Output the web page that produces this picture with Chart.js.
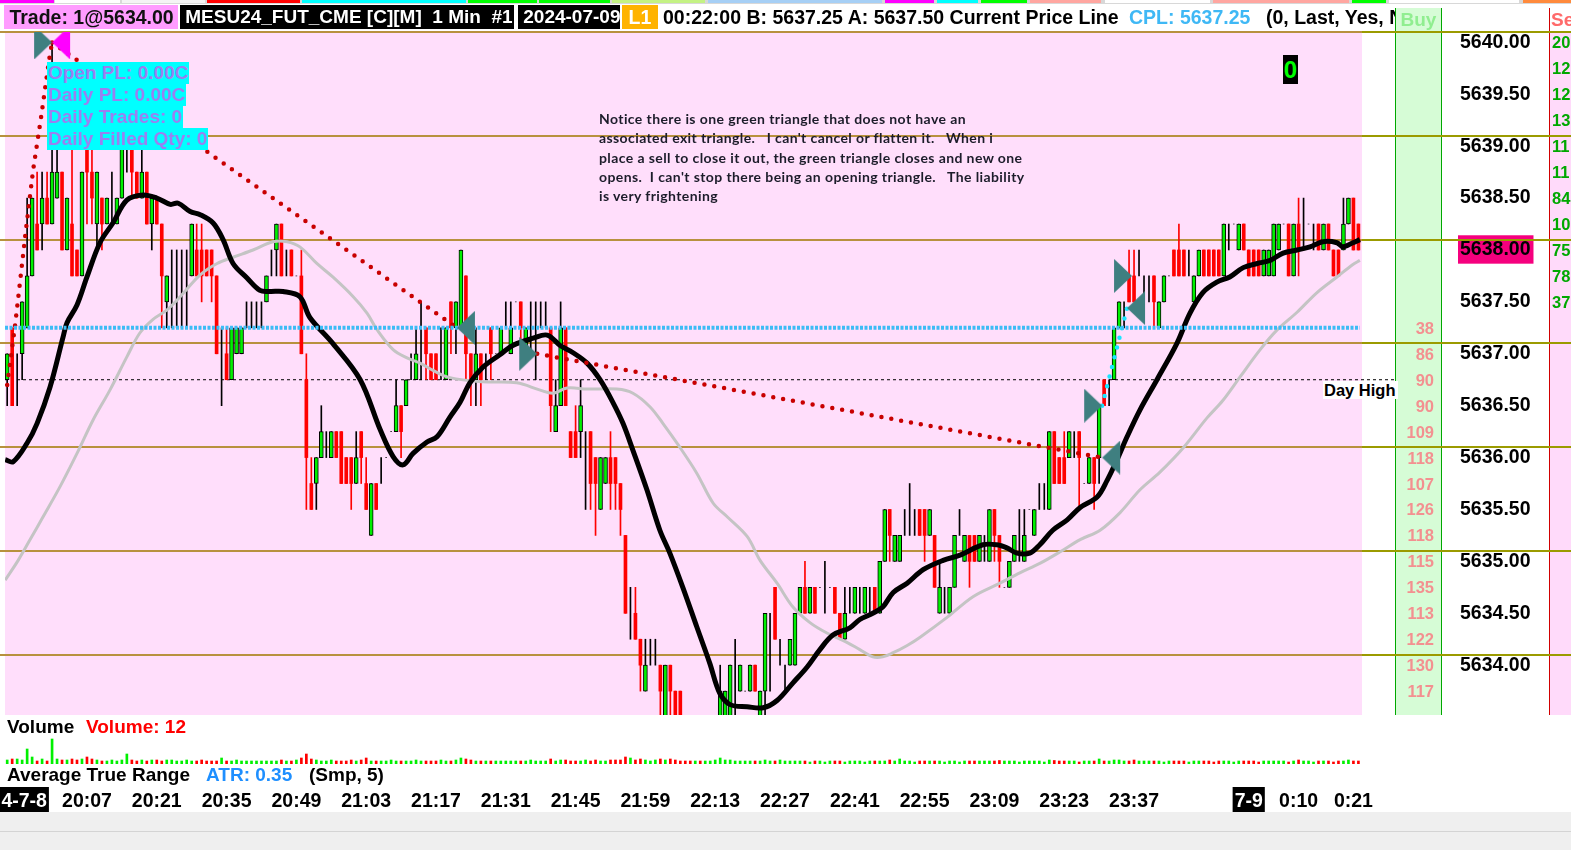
<!DOCTYPE html>
<html>
<head>
<meta charset="utf-8">
<title>MESU24_FUT_CME 1 Min</title>
<script src="https://cdn.jsdelivr.net/npm/chart.js@4.4.1/dist/chart.umd.min.js"></script>
<style>
  html, body { margin: 0; padding: 0; background: #fff; }
  #page { position: relative; width: 1571px; height: 850px; overflow: hidden;
          font-family: "Liberation Sans", Arial, sans-serif; font-weight: bold; }
  .abs { position: absolute; white-space: pre; }
  canvas { position: absolute; left: 0; z-index: 2; }
  #priceCanvas { top: 0; }
  #volCanvas { top: 715px; }
  .bg { z-index: 1; }
  .txt { z-index: 3; }
  .hdr { top: 5px; height: 24px; line-height: 24px; font-size: 19.5px; overflow: hidden; }
  .info { left: 47px; height: 22px; line-height: 22px; font-size: 19px; color: #9a80f0; background: #00ffff; padding: 0 1px; }
  .colnum { width: 38px; text-align: right; left: 1396px; font-size: 16.5px; color: #f39090; line-height: 20px; }
  .rnum { left: 1552px; font-size: 16.5px; color: #00a800; line-height: 20px; }
  #note { left: 599px; top: 109px; font-family: Lato, "Open Sans", sans-serif; font-weight: 700; font-size: 14px;
          letter-spacing: 0.4px; line-height: 19.3px; color: #1c1c2a; }
</style>
</head>
<body>
<div id="page">
  <canvas id="priceCanvas" width="1571" height="715"></canvas>
  <canvas id="volCanvas" width="1571" height="97"></canvas>
</div>
<script>
// ---- price data, in ticks above BASE (1 tick = 0.25) ----
const BASE = 5633, TICK = 0.25;
const toPrice = t => BASE + t * TICK;

const opensT = [
15,17,15,16,17,19,21,21,22,21, 22,23,20,21,20,19,24,23,21,22,
21,22,21,22,24,24,23,22,23,21, 22,21,18,19,19,19,19,19,20,20,
20,20,19,16,16,15,16,16,17,17, 17,17,18,19,20,21,19,20,19,19,
15,11,11,12,13,12,13,13,12,12, 11,13,11,9,11,11,12,13,13,14,
14,15,15,16,17,16,16,16,15,18, 17,17,19,16,15,16,16,17,16,16,
17,16,18,18,16,17,17,18,18,17, 13,14,17,13,13,13,12,13,12,10,
11,12,12,11,9,7,6,5,3,4, 4,4,2,4,3,3,2,1,0,1,
0,1,1,2,2,2,4,3,3,3, 4,2,3,6,7,5,4,4,4,6,
7,6,7,7,7,7,7,6,5,7, 6,7,6,7,7,6,8,10,8,8,
9,10,10,10,10,9,9,6,7,6, 7,9,8,9,9,8,9,8,10,9,
7,7,8,9,8,10,9,10,10,10, 13,12,12,12,13,13,11,11,12,12,
15,15,15,17,18,19,19,19,19,19, 19,17,18,19,20,20,20,20,18,19,
20,20,20,20,19,21,21,20,21,20, 20,20,19,19,19,20,21,21,19,21,
21,21,21,21,20,21,20,20,20,21, 22,21];
const highsT = [
16,17,16,18,22,22,23,23,23,28, 24,23,22,24,20,23,25,24,23,22,
22,23,22,25,25,24,23,24,23,22, 22,21,19,20,20,20,20,21,21,21,
20,20,19,17,17,17,17,17,18,18, 18,18,19,20,21,21,20,20,19,20,
16,12,12,14,13,13,13,13,12,12, 13,13,12,11,11,12,12,13,15,14,
15,16,17,18,17,16,16,17,17,18, 18,20,19,16,17,16,16,17,16,17,
18,18,18,18,17,18,18,18,18,17, 15,18,17,13,14,15,13,13,12,12,
12,13,12,11,9,7,7,5,5,5, 5,4,4,4,3,3,2,2,1,2,
1,2,2,4,3,4,5,4,3,4, 4,3,6,6,7,5,4,5,6,7,
8,7,7,7,8,7,7,6,7,7, 7,7,7,7,7,8,10,10,9,9,
10,11,10,10,10,10,9,8,7,7, 9,10,9,9,9,9,9,10,10,9,
7,8,9,10,10,10,10,11,11,13, 13,12,13,13,13,13,11,12,12,14,
15,15,17,18,18,20,20,20,19,19, 19,18,19,19,20,21,20,20,19,20,
20,20,20,20,21,21,21,21,21,20, 20,20,20,20,21,21,21,21,21,22,
22,21,21,21,21,21,20,20,22,22, 22,21];
const lowsT = [
14,14,14,15,17,19,20,20,21,21, 22,20,20,19,19,19,21,21,20,20,
21,21,21,22,23,22,22,22,21,20, 21,17,17,17,17,17,17,19,19,18,
19,18,16,14,15,15,16,16,17,17, 17,17,18,19,19,19,19,19,19,16,
10,10,10,12,12,12,12,11,11,10, 11,11,10,9,10,11,12,13,13,12,
14,15,15,15,15,15,15,15,15,16, 16,17,15,14,14,14,15,15,16,16,
17,16,18,16,16,16,15,17,17,13, 13,14,14,12,12,12,10,10,9,10,
11,10,10,9,6,5,5,3,3,4, 4,2,2,2,2,1,0,0,-1,0,
-1,0,0,1,1,2,2,3,3,3, 3,1,2,3,5,4,3,4,4,6,
6,6,6,7,6,7,6,5,5,6, 6,6,6,6,6,6,8,8,8,8,
9,9,9,9,8,9,7,6,6,6, 7,9,8,7,8,8,8,8,8,7,
7,7,8,8,8,10,9,10,10,10, 11,11,11,12,12,10,11,11,10,11,
14,14,15,17,17,18,18,19,18,18, 17,17,18,19,19,19,19,19,18,19,
19,19,19,19,19,20,21,20,20,19, 19,19,19,19,19,20,21,19,19,19,
20,21,20,20,20,20,19,19,20,21, 20,20];
const closesT = [
16,14,15,18,19,22,20,22,21,23, 23,20,22,19,19,23,23,22,23,21,
22,22,22,24,24,23,22,23,21,22, 21,19,19,19,19,19,19,21,19,19,
19,19,16,16,15,17,17,17,17,17, 17,17,19,19,21,19,19,19,19,16,
12,10,12,13,13,13,12,11,11,11, 12,12,10,11,10,11,12,13,14,13,
15,15,16,16,16,15,15,16,17,17, 18,20,16,15,16,15,16,16,16,17,
17,17,18,17,17,17,17,18,18,14, 14,17,14,12,12,14,12,11,11,12,
12,11,11,10,6,7,5,4,4,4, 4,3,4,3,2,2,1,0,1,0,
1,1,2,3,3,4,4,4,3,4, 3,3,6,6,5,5,4,5,6,7,
6,7,6,7,7,7,6,5,6,7, 7,7,7,7,6,8,10,9,9,9,
9,10,10,9,9,10,7,7,7,7, 9,9,9,8,8,9,9,10,9,8,
7,8,9,9,9,10,10,10,10,13, 11,11,11,13,13,12,11,12,11,14,
14,15,17,18,18,18,18,19,19,19, 18,18,19,19,19,19,19,20,19,20,
19,19,19,19,21,21,21,21,20,19, 19,19,20,20,21,21,21,19,21,20,
21,21,21,20,21,20,19,19,21,22, 20,20];
const volumes = [
16,20,20,16,60,28,12,20,12,100, 20,16,16,20,16,20,28,20,16,12,
12,16,12,16,40,16,12,16,12,16, 16,12,16,16,12,12,16,12,12,16,
12,12,12,24,12,12,16,12,12,12, 12,12,12,12,12,16,12,12,16,24,
40,20,16,12,12,16,12,12,12,16, 12,16,24,12,12,12,12,16,12,12,
12,12,16,12,12,12,12,16,12,12, 16,24,20,16,12,12,12,12,12,12,
12,12,12,12,12,16,12,12,12,20, 12,16,16,12,12,12,16,12,16,12,
12,16,16,16,28,24,16,20,16,12, 16,20,16,20,16,12,12,12,12,12,
12,12,16,24,16,16,12,12,12,12, 12,12,16,12,12,16,12,12,12,12,
12,8,12,12,8,12,12,12,8,12, 12,12,8,12,12,12,12,16,12,20,
12,12,8,12,12,12,12,12,8,12, 12,8,12,12,12,12,12,12,12,14,
12,12,12,8,12,12,12,12,8,16, 14,12,12,12,12,8,12,12,12,20,
12,12,16,16,12,12,16,12,12,12, 12,12,8,12,12,12,12,8,12,12,
12,12,8,12,12,12,8,12,12,12, 12,8,12,12,12,12,12,8,12,16,
12,12,8,12,12,12,8,12,12,16, 12,12];

// moving averages (bar index, price)
const fastMaBars = [-0.4,1.2,4,6,8.6,11.2,12,14,16,18.6,21.2,24,27.2,30,32.7,34.3,36.7,38.7,41.3,43.3,45.3,48.1,50.7,52.7,55.3,58.7,60.7,65.3,70.8,74.8,77.4,79.4,81.4,84.2,86.2,88.8,90.8,92.8,95.4,98.8,101.4,105.5,108.3,110.9,113.5,116.3,118.9,121.5,123.5,125.5,128.3,130.9,132.9,135.5,138.3,140.9,142.9,145,148.4,151.6,154.4,157.6,160.4,163,165.6,169,171,173.6,175.6,177.7,180.5,183.7,187.7,191.1,195.7,198.5,200.5,202.5,205.1,207.1,209.7,212.6,215.2,218.6,220.6,222.6,224.6,227.2,230.6,234.6,237.2,239.8,242.6,245.2,247.9,250.7,253.3,255.9,258.7,261.3,263.9,266.7,267.9,269.9,271.3];
const fastMaVals = [5635.98,5635.96,5636.14,5636.33,5636.68,5637.16,5637.30,5637.47,5637.74,5638.07,5638.26,5638.48,5638.53,5638.50,5638.44,5638.45,5638.37,5638.34,5638.26,5638.10,5637.87,5637.73,5637.61,5637.60,5637.60,5637.55,5637.35,5637.10,5636.75,5636.27,5636.01,5635.93,5636.04,5636.15,5636.20,5636.39,5636.53,5636.72,5636.87,5636.99,5637.08,5637.15,5637.18,5637.08,5637.01,5636.91,5636.75,5636.53,5636.33,5636.07,5635.69,5635.30,5635.08,5634.75,5634.37,5634.02,5633.73,5633.62,5633.60,5633.59,5633.66,5633.83,5633.98,5634.15,5634.29,5634.36,5634.44,5634.50,5634.56,5634.70,5634.79,5634.92,5635.01,5635.06,5635.16,5635.16,5635.13,5635.08,5635.08,5635.16,5635.30,5635.40,5635.52,5635.62,5635.78,5635.98,5636.20,5636.46,5636.75,5637.10,5637.39,5637.59,5637.69,5637.74,5637.83,5637.87,5637.90,5637.97,5638.00,5638.03,5638.08,5638.07,5638.03,5638.07,5638.10];
const slowMaBars = [-0.4,2.2,4.6,7.2,10.6,14,17.2,20.6,24,26.6,29.2,32,34.7,38.7,42.1,45.3,49.3,53.3,56.1,58.7,62.1,65.3,69.4,72.2,74.2,77.4,80.2,82.8,85.4,88.8,95.4,102.2,106.9,109.5,112.3,116.3,122.3,125.5,128.9,131.5,134.9,138.3,141.6,144.4,148.4,151,154.4,157.6,161,164.4,168.4,171,173.6,175.6,177.7,180.5,183.1,188.5,193.7,199.1,203.1,207.1,211.1,215.2,219.2,223.2,227.2,231.2,235.8,240.6,243.8,247.3,251.3,254.7,258.7,262.7,266.7,269.9,271.3];
const slowMaVals = [5634.82,5635.01,5635.21,5635.43,5635.72,5636.04,5636.36,5636.65,5636.97,5637.20,5637.33,5637.42,5637.55,5637.76,5637.87,5637.93,5638.00,5638.08,5638.08,5638.03,5637.87,5637.74,5637.55,5637.39,5637.23,5637.04,5636.96,5636.91,5636.84,5636.77,5636.73,5636.72,5636.65,5636.62,5636.67,5636.66,5636.66,5636.62,5636.49,5636.33,5636.10,5635.85,5635.56,5635.43,5635.24,5635.01,5634.79,5634.56,5634.41,5634.31,5634.22,5634.15,5634.08,5634.08,5634.12,5634.19,5634.27,5634.46,5634.66,5634.79,5634.89,5634.98,5635.09,5635.21,5635.30,5635.47,5635.69,5635.86,5636.09,5636.38,5636.55,5636.78,5637.04,5637.23,5637.40,5637.59,5637.74,5637.86,5637.90];

// trade markers and trade lines
const entryBars = [9.0, 106.3, 219.6, 225.6];
const entryPrices = [5640.00, 5637.00, 5636.50, 5637.75];
const exitBars = [90.2, 219.6, 224.6];
const exitPrices = [5637.25, 5636.00, 5637.44];
const openExitBars = [9.0];
const openExitPrices = [5640.00];
const tradeABars = [0, 1.6, 3.6, 5.2, 6.8, 8.4, 9.0];
const tradeAPrices = [5636.70, 5637.28, 5638.13, 5638.77, 5639.28, 5639.83, 5640.00];
const tradeBBars = [9.0, 90.2];
const tradeBPrices = [5640.00, 5637.25];
const tradeCBars = [106.3, 219.6];
const tradeCPrices = [5637.00, 5636.00];
const winBars = [219.6, 224.6];
const winPrices = [5636.50, 5637.44];

const cplPrice = 5637.25;
const dayHighPrice = 5636.75;
const gridLevels = [5634.1, 5635.1, 5636.1, 5637.1, 5638.1, 5639.1, 5640.1];
const priceLabels = [5634, 5634.5, 5635, 5635.5, 5636, 5636.5, 5637, 5637.5, 5638, 5638.5, 5639, 5639.5, 5640];
const lastPriceLabel = 5638;

const timeLabels = ['4-7-8','20:07','20:21','20:35','20:49','21:03','21:17','21:31','21:45','21:59','22:13','22:27','22:41','22:55','23:09','23:23','23:37','7-9','0:10','0:21'];
const timeTickBars = [3.4,16,30,44,58,72,86,100,114,128,142,156,170,184,198,212,226,249,259,270];
const dateLabelIdx = [0, 17];

const buyColTicks = [17,16,15,14,13,12,11,10,9,8,7,6,5,4,3];
const buyColVals = [38,86,90,90,109,118,107,126,118,115,135,113,122,130,117];
const sellColTicks = [28,27,26,25,24,23,22,21,20,19,18];
const sellColVals = [20,12,12,13,11,11,84,10,75,78,37];

// ---- layout constants ----
const XMIN = -0.44, XMAX = 271.72;
const RIGHT_W = 209;
const PINK = '#ffdefb';
const UP = '#00f000', DOWN = '#ff0000';

const bars = opensT.map((_, i) => i);
const isUp = i => closesT[i] > opensT[i];
const isDown = i => closesT[i] < opensT[i];

const wickData = bars.map(i => ({ x: i, y: [toPrice(lowsT[i]), toPrice(highsT[i])] }));
const upBodies = bars.filter(isUp).map(i => ({ x: i, y: [toPrice(opensT[i]), toPrice(closesT[i])] }));
const downBodies = bars.filter(isDown).map(i => ({ x: i, y: [toPrice(closesT[i]), toPrice(opensT[i])] }));
const pairs = (xs, ys) => xs.map((x, k) => ({ x: x, y: ys[k] }));

// scale paddings would otherwise push the plot area inward
const noPad = s => { s.paddingLeft = 0; s.paddingRight = 0; s.paddingTop = 0; s.paddingBottom = 0; };

function triImage(color, right) {
  const c = document.createElement('canvas');
  c.width = 40; c.height = 34;
  const g = c.getContext('2d');
  g.fillStyle = color;
  g.beginPath();
  if (right) { g.moveTo(2, 0); g.lineTo(20, 17); g.lineTo(2, 34); }
  else { g.moveTo(38, 0); g.lineTo(20, 17); g.lineTo(38, 34); }
  g.closePath(); g.fill();
  return c;
}
const TEAL = '#3f7f80';

const paneBg = {
  id: 'paneBg',
  beforeDraw(chart) {
    const a = chart.chartArea, ctx = chart.ctx;
    ctx.save();
    ctx.fillStyle = PINK;
    ctx.fillRect(a.left, a.top, a.right - a.left, a.bottom - a.top);
    ctx.restore();
  }
};
const levelLines = {
  id: 'levelLines',
  beforeDatasetsDraw(chart) {
    const a = chart.chartArea, ctx = chart.ctx, y = chart.scales.y;
    ctx.save();
    ctx.lineWidth = 2;
    gridLevels.forEach(v => {
      const py = Math.round(y.getPixelForValue(v));
      ctx.strokeStyle = '#b8913e';
      ctx.beginPath(); ctx.moveTo(0, py); ctx.lineTo(a.right, py); ctx.stroke();
      ctx.strokeStyle = '#9b9b00';
      ctx.beginPath(); ctx.moveTo(a.right, py); ctx.lineTo(chart.width, py); ctx.stroke();
    });
    ctx.restore();
  }
};

const dotted = (color) => ({
  type: 'line', borderColor: color, borderWidth: 4.5, borderDash: [0, 10],
  borderCapStyle: 'round', pointRadius: 0, tension: 0, fill: false
});

const priceChart = new Chart(document.getElementById('priceCanvas'), {
  type: 'bar',
  data: {
    datasets: [
      Object.assign(dotted('#c80000'), { data: pairs(tradeABars, tradeAPrices), order: 2 }),
      Object.assign(dotted('#c80000'), { data: pairs(tradeBBars, tradeBPrices), order: 2 }),
      Object.assign(dotted('#c80000'), { data: pairs(tradeCBars, tradeCPrices), order: 2 }),
      Object.assign(dotted('#19e6ff'), { data: pairs(winBars, winPrices), order: 2 }),
      { type: 'line', data: [{ x: XMIN, y: cplPrice }, { x: bars.length - 0.7, y: cplPrice }],
        borderColor: '#3dbcf5', borderWidth: 4, borderDash: [3, 1.5], pointRadius: 0, order: 1 },
      { type: 'line', data: [{ x: XMIN, y: dayHighPrice }, { x: bars.length + 6.5, y: dayHighPrice }],
        borderColor: '#000', borderWidth: 1, borderDash: [3, 3], pointRadius: 0, clip: false, order: 7 },
      { type: 'line', data: pairs(fastMaBars, fastMaVals), borderColor: '#000', borderWidth: 5,
        pointRadius: 0, tension: 0.35, order: 3 },
      { type: 'line', data: pairs(slowMaBars, slowMaVals), borderColor: '#c4c4c4', borderWidth: 3,
        pointRadius: 0, tension: 0.35, order: 4 },
      { type: 'bar', data: wickData, barThickness: 1, grouped: false, order: 6,
        backgroundColor: ctx => (ctx.raw && isDown(ctx.raw.x)) ? DOWN : '#000' },
      { type: 'bar', data: upBodies, barThickness: 4, grouped: false, order: 5,
        backgroundColor: UP, borderColor: '#000', borderWidth: 1, borderSkipped: false },
      { type: 'bar', data: downBodies, barThickness: 3, grouped: false, order: 5,
        backgroundColor: DOWN, borderWidth: 0 },
      { type: 'scatter', data: pairs(entryBars, entryPrices), pointStyle: triImage(TEAL, true), order: 0 },
      { type: 'scatter', data: pairs(exitBars, exitPrices), pointStyle: triImage(TEAL, false), order: 0 },
      { type: 'scatter', data: pairs(openExitBars, openExitPrices), pointStyle: triImage('#ff00ff', false), order: 0 }
    ]
  },
  options: {
    responsive: false, animation: false, devicePixelRatio: 1,
    layout: { padding: { left: 5, top: 32, right: 0, bottom: 0 }, autoPadding: false },
    plugins: { legend: { display: false }, tooltip: { enabled: false } },
    scales: {
      x: { type: 'linear', min: XMIN, max: XMAX, display: false, offset: false, afterFit: noPad },
      y: {
        type: 'linear', position: 'right', min: 5633.52, max: 5640.10,
        grid: { display: false, drawTicks: false }, border: { display: false },
        afterFit: s => { s.width = RIGHT_W; noPad(s); },
        afterBuildTicks: s => { s.ticks = priceLabels.map(v => ({ value: v })); },
        ticks: {
          padding: 98, color: '#000',
          font: { family: '"Liberation Sans", Arial, sans-serif', size: 19.5, weight: 'bold' },
          callback: v => Number(v).toFixed(2),
          showLabelBackdrop: ctx => !!ctx.tick && ctx.tick.value === lastPriceLabel,
          backdropColor: '#f5007e', backdropPadding: { left: 2, right: 3, top: 3, bottom: 2 }
        }
      }
    }
  },
  plugins: [paneBg, levelLines]
});

const volChart = new Chart(document.getElementById('volCanvas'), {
  type: 'bar',
  data: {
    datasets: [{
      data: bars.map(i => ({ x: i, y: volumes[i] })),
      barThickness: 2, grouped: false,
      backgroundColor: ctx => (ctx.raw && isDown(ctx.raw.x)) ? DOWN : UP
    }]
  },
  options: {
    responsive: false, animation: false, devicePixelRatio: 1,
    layout: { padding: { left: 5, top: 20, right: RIGHT_W, bottom: 0 }, autoPadding: false },
    plugins: { legend: { display: false }, tooltip: { enabled: false } },
    scales: {
      y: { display: false, min: 0, max: 116, afterFit: noPad },
      x: {
        type: 'linear', min: XMIN, max: XMAX, offset: false,
        grid: { display: false, drawTicks: false }, border: { display: false },
        afterFit: s => { s.height = 48; noPad(s); },
        afterBuildTicks: s => { s.ticks = timeTickBars.map(v => ({ value: v })); },
        ticks: {
          autoSkip: false, maxRotation: 0, padding: 26,
          font: { family: '"Liberation Sans", Arial, sans-serif', size: 19.5, weight: 'bold' },
          callback: (v, i) => timeLabels[i],
          color: ctx => dateLabelIdx.includes(ctx.index) ? '#fff' : '#000',
          showLabelBackdrop: ctx => dateLabelIdx.includes(ctx.index),
          backdropColor: '#000', backdropPadding: { left: 2, right: 2, top: 3, bottom: 2 }
        }
      }
    }
  }
});

// ---- page decoration and text ----
const page = document.getElementById('page');
function add(cls, style, text) {
  const d = document.createElement('div');
  d.className = 'abs ' + cls;
  Object.assign(d.style, style);
  if (text !== undefined) d.textContent = text;
  page.appendChild(d);
  return d;
}

// top colour strip
add('bg', { left: '0px', top: '0px', width: '1571px', height: '4px', background: '#d8d8d8' });
[[0,54,'#ff00ff'],[55,120,'#ffffff'],[122,205,'#f4f4f4'],[207,300,'#ff0000'],[302,466,'#00ffff'],
 [468,537,'#00ff00'],[539,610,'#00ff00'],[612,705,'#c4f284'],[708,882,'#a6cff5'],[885,934,'#ff00ff'],
 [937,978,'#00ffff'],[981,1027,'#00ff00'],[1030,1101,'#ffa6a0'],[1105,1210,'#ffffff'],[1213,1349,'#ffa6a0'],
 [1352,1386,'#00ff00'],[1389,1519,'#ffffff'],[1523,1571,'#ff8a3c']].forEach(s =>
  add('bg', { left: s[0] + 'px', top: '0px', width: (s[1] - s[0]) + 'px', height: '3px', background: s[2] }));

// right side columns
add('bg', { left: '1395px', top: '8px', width: '45px', height: '707px', background: '#d6fcd6',
            borderLeft: '1px solid #00a800', borderRight: '1px solid #00a800' });
add('bg', { left: '1549px', top: '8px', width: '22px', height: '707px', background: '#ffdafa',
            borderLeft: '1px solid #d00000' });
add('bg', { left: '1550px', top: '8px', width: '21px', height: '24px', background: '#fff' });
add('txt', { left: '1396px', top: '8px', width: '45px', height: '24px', lineHeight: '24px', fontSize: '19px',
             color: '#90ee90', textAlign: 'center', overflow: 'hidden' }, 'Buy');
add('txt', { left: '1551px', top: '8px', width: '20px', height: '24px', lineHeight: '24px', fontSize: '19px',
             color: '#ff6a6a', overflow: 'hidden' }, 'Sell');

// bottom gray band
add('bg', { left: '0px', top: '812px', width: '1571px', height: '38px', background: '#efefef' });
add('bg', { left: '0px', top: '831px', width: '1571px', height: '1px', background: '#d4d4d4' });

// header
const hdr = add('txt', { left: '0px', top: '0px', width: '1395px', height: '32px', overflow: 'hidden' });
function hspan(left, text, style) {
  const s = document.createElement('div');
  s.className = 'abs hdr';
  s.style.left = left + 'px';
  Object.assign(s.style, style || {});
  s.textContent = text;
  hdr.appendChild(s);
}
hspan(4, ' Trade: 1@5634.00', { background: '#ff9cff', color: '#111', width: '174px' });
hspan(180, ' MESU24_FUT_CME [C][M]  1 Min  #1', { background: '#000', color: '#fff', width: '334px', fontSize: '19px' });
hspan(518, ' 2024-07-09', { background: '#000', color: '#fff', width: '102px', fontSize: '19px' });
hspan(622, 'L1', { background: '#ffb300', color: '#fff', width: '36px', textAlign: 'center' });
hspan(663, '00:22:00 B: 5637.25 A: 5637.50 Current Price Line', { color: '#000' });
hspan(1129, 'CPL: 5637.25', { color: '#3fb8f5' });
hspan(1266, '(0, Last, Yes, No)', { color: '#000' });

// account info box
['Open PL: 0.00C', 'Daily PL: 0.00C', 'Daily Trades: 0', 'Daily Filled Qty: 0'].forEach((t, k) =>
  add('txt info', { top: (62 + 22 * k) + 'px' }, t));

// note
add('txt', { left: '599px', top: '109px' }, '').id = 'note';
document.getElementById('note').textContent =
  'Notice there is one green triangle that does not have an\n' +
  'associated exit triangle.   I can\'t cancel or flatten it.   When i\n' +
  'place a sell to close it out, the green triangle closes and new one\n' +
  'opens.  I can\'t stop there being an opening triangle.   The liability\n' +
  'is very frightening';

// position counter
add('txt', { left: '1283px', top: '55px', width: '15px', height: '29px', lineHeight: '29px', background: '#000',
             color: '#00ff00', fontSize: '24px', textAlign: 'center' }, '0');

// price-level columns and Day High, placed through the price scale
const yS = priceChart.scales.y;
buyColTicks.forEach((t, k) =>
  add('txt colnum', { top: (yS.getPixelForValue(toPrice(t)) - 10) + 'px' }, String(buyColVals[k])));
sellColTicks.forEach((t, k) =>
  add('txt rnum', { top: (yS.getPixelForValue(toPrice(t)) - 10) + 'px' }, String(sellColVals[k])));
add('txt', { left: '1323px', top: (yS.getPixelForValue(dayHighPrice) + 1) + 'px', fontSize: '16.5px',
             lineHeight: '18px', background: '#fff', color: '#000', padding: '0 2px 0 1px' }, 'Day High');

// lower panel labels
add('txt', { left: '7px', top: '716px', fontSize: '19px', lineHeight: '22px', color: '#000' }, 'Volume');
add('txt', { left: '86px', top: '716px', fontSize: '19px', lineHeight: '22px', color: '#ff0000' }, 'Volume: 12');
add('txt', { left: '7px', top: '764px', fontSize: '19px', lineHeight: '22px', color: '#000' }, 'Average True Range');
add('txt', { left: '206px', top: '764px', fontSize: '19px', lineHeight: '22px', color: '#1e8fff' }, 'ATR: 0.35');
add('txt', { left: '309px', top: '764px', fontSize: '19px', lineHeight: '22px', color: '#000' }, '(Smp, 5)');
</script>
</body>
</html>
